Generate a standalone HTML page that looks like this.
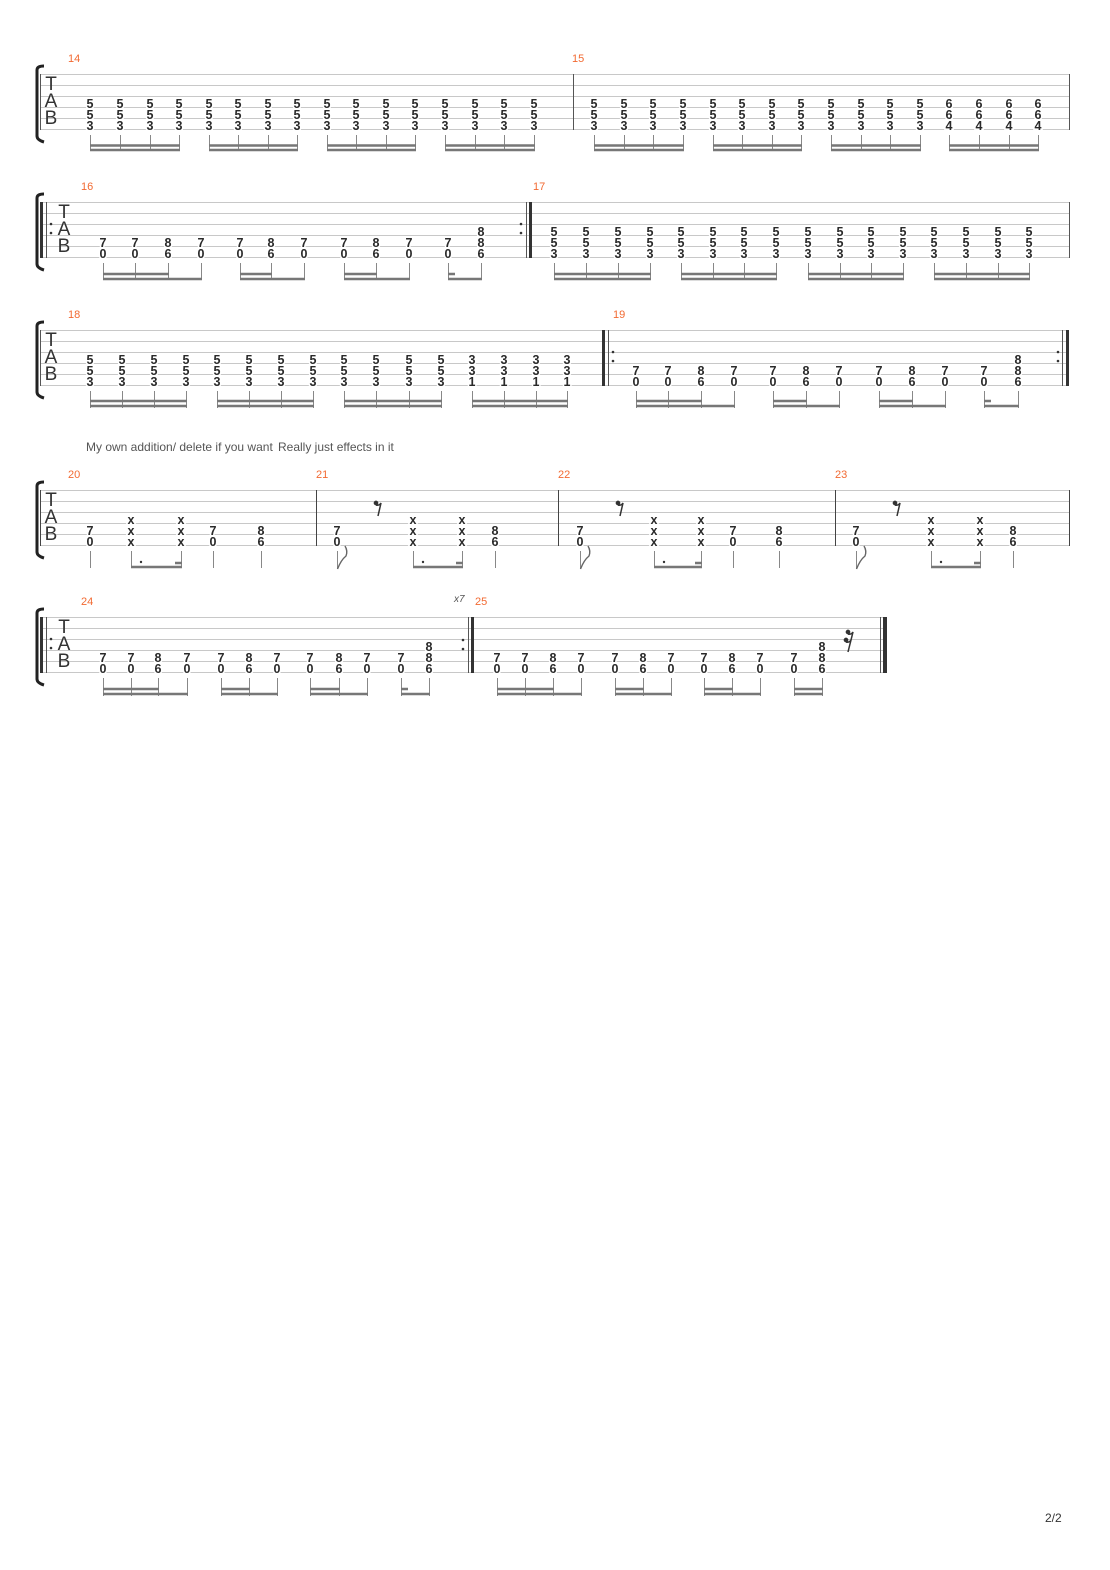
<!DOCTYPE html>
<html><head><meta charset="utf-8"><style>
html,body{margin:0;padding:0;background:#fff}
svg{display:block}
.l{stroke:#c8c8c8;stroke-width:1}
.n{font-family:"Liberation Sans",sans-serif;font-size:12.5px;font-weight:bold;fill:#2a2a2a;text-anchor:middle;paint-order:stroke;stroke:#fff;stroke-width:3px}
.mn{font-family:"Liberation Sans",sans-serif;font-size:11px;fill:#f26a32}
.tab{font-family:"Liberation Sans",sans-serif;font-size:19px;fill:#333;text-anchor:middle}
.st{stroke:#888;stroke-width:1;fill:none}
.bm{stroke:#777;stroke-width:2.6;fill:none}
.br{stroke:#222;stroke-width:3;fill:none}
.txt{font-family:"Liberation Sans",sans-serif;font-size:12px;fill:#555}
</style></head><body>
<svg width="1110" height="1570" viewBox="0 0 1110 1570" xmlns="http://www.w3.org/2000/svg">

<!-- ============ SYSTEM 1 ============ -->
<path class="br" d="M44 66 Q37 66 37 70 V136 Q37 140 44 142"/>
<g class="l"><path d="M40 74.5H1069M40 85.5H1069M40 96.5H1069M40 107.5H1069M40 118.5H1069M40 129.5H1069"/></g>
<path d="M40.5 74V130M573.5 74V130M1069.5 74V130" stroke="#555" stroke-width="1"/>
<text class="tab" x="51" y="90">T</text><text class="tab" x="51" y="107">A</text><text class="tab" x="51" y="124">B</text>
<text class="mn" x="68" y="62">14</text><text class="mn" x="572" y="62">15</text>
<g class="n">
<text x="90" y="108">5<tspan x="90" dy="11">5</tspan><tspan x="90" dy="11">3</tspan></text>
<text x="120" y="108">5<tspan x="120" dy="11">5</tspan><tspan x="120" dy="11">3</tspan></text>
<text x="150" y="108">5<tspan x="150" dy="11">5</tspan><tspan x="150" dy="11">3</tspan></text>
<text x="179" y="108">5<tspan x="179" dy="11">5</tspan><tspan x="179" dy="11">3</tspan></text>
<text x="209" y="108">5<tspan x="209" dy="11">5</tspan><tspan x="209" dy="11">3</tspan></text>
<text x="238" y="108">5<tspan x="238" dy="11">5</tspan><tspan x="238" dy="11">3</tspan></text>
<text x="268" y="108">5<tspan x="268" dy="11">5</tspan><tspan x="268" dy="11">3</tspan></text>
<text x="297" y="108">5<tspan x="297" dy="11">5</tspan><tspan x="297" dy="11">3</tspan></text>
<text x="327" y="108">5<tspan x="327" dy="11">5</tspan><tspan x="327" dy="11">3</tspan></text>
<text x="356" y="108">5<tspan x="356" dy="11">5</tspan><tspan x="356" dy="11">3</tspan></text>
<text x="386" y="108">5<tspan x="386" dy="11">5</tspan><tspan x="386" dy="11">3</tspan></text>
<text x="415" y="108">5<tspan x="415" dy="11">5</tspan><tspan x="415" dy="11">3</tspan></text>
<text x="445" y="108">5<tspan x="445" dy="11">5</tspan><tspan x="445" dy="11">3</tspan></text>
<text x="475" y="108">5<tspan x="475" dy="11">5</tspan><tspan x="475" dy="11">3</tspan></text>
<text x="504" y="108">5<tspan x="504" dy="11">5</tspan><tspan x="504" dy="11">3</tspan></text>
<text x="534" y="108">5<tspan x="534" dy="11">5</tspan><tspan x="534" dy="11">3</tspan></text>
<text x="594" y="108">5<tspan x="594" dy="11">5</tspan><tspan x="594" dy="11">3</tspan></text>
<text x="624" y="108">5<tspan x="624" dy="11">5</tspan><tspan x="624" dy="11">3</tspan></text>
<text x="653" y="108">5<tspan x="653" dy="11">5</tspan><tspan x="653" dy="11">3</tspan></text>
<text x="683" y="108">5<tspan x="683" dy="11">5</tspan><tspan x="683" dy="11">3</tspan></text>
<text x="713" y="108">5<tspan x="713" dy="11">5</tspan><tspan x="713" dy="11">3</tspan></text>
<text x="742" y="108">5<tspan x="742" dy="11">5</tspan><tspan x="742" dy="11">3</tspan></text>
<text x="772" y="108">5<tspan x="772" dy="11">5</tspan><tspan x="772" dy="11">3</tspan></text>
<text x="801" y="108">5<tspan x="801" dy="11">5</tspan><tspan x="801" dy="11">3</tspan></text>
<text x="831" y="108">5<tspan x="831" dy="11">5</tspan><tspan x="831" dy="11">3</tspan></text>
<text x="861" y="108">5<tspan x="861" dy="11">5</tspan><tspan x="861" dy="11">3</tspan></text>
<text x="890" y="108">5<tspan x="890" dy="11">5</tspan><tspan x="890" dy="11">3</tspan></text>
<text x="920" y="108">5<tspan x="920" dy="11">5</tspan><tspan x="920" dy="11">3</tspan></text>
<text x="949" y="108">6<tspan x="949" dy="11">6</tspan><tspan x="949" dy="11">4</tspan></text>
<text x="979" y="108">6<tspan x="979" dy="11">6</tspan><tspan x="979" dy="11">4</tspan></text>
<text x="1009" y="108">6<tspan x="1009" dy="11">6</tspan><tspan x="1009" dy="11">4</tspan></text>
<text x="1038" y="108">6<tspan x="1038" dy="11">6</tspan><tspan x="1038" dy="11">4</tspan></text>
</g>
<path class="st" d="M90.5 135V151M120.5 135V151M150.5 135V151M179.5 135V151M209.5 135V151M238.5 135V151M268.5 135V151M297.5 135V151M327.5 135V151M356.5 135V151M386.5 135V151M415.5 135V151M445.5 135V151M475.5 135V151M504.5 135V151M534.5 135V151M594.5 135V151M624.5 135V151M653.5 135V151M683.5 135V151M713.5 135V151M742.5 135V151M772.5 135V151M801.5 135V151M831.5 135V151M861.5 135V151M890.5 135V151M920.5 135V151M949.5 135V151M979.5 135V151M1009.5 135V151M1038.5 135V151"/>
<path class="bm" d="M90 145.5H180M90 150H180M209 145.5H298M209 150H298M327 145.5H416M327 150H416M445 145.5H535M445 150H535M594 145.5H684M594 150H684M713 145.5H802M713 150H802M831 145.5H921M831 150H921M949 145.5H1039M949 150H1039"/>

<!-- ============ SYSTEM 2 ============ -->
<path class="br" d="M44 194 Q37 194 37 198 V264 Q37 268 44 270"/>
<g class="l"><path d="M40 202.5H1069M40 213.5H1069M40 224.5H1069M40 235.5H1069M40 246.5H1069M40 257.5H1069"/></g>
<rect x="40" y="202" width="3" height="56" fill="#333"/>
<path d="M46.5 202V258M526.5 202V258M1069.5 202V258" stroke="#555" stroke-width="1"/>
<rect x="529" y="202" width="3" height="56" fill="#333"/>
<circle cx="51" cy="224" r="1.3" fill="#333"/><circle cx="51" cy="233" r="1.3" fill="#333"/>
<circle cx="521" cy="224" r="1.3" fill="#333"/><circle cx="521" cy="233" r="1.3" fill="#333"/>
<text class="tab" x="64" y="218">T</text><text class="tab" x="64" y="235">A</text><text class="tab" x="64" y="252">B</text>
<text class="mn" x="81" y="190">16</text><text class="mn" x="533" y="190">17</text>
<g class="n">
<text x="103" y="247">7<tspan x="103" dy="11">0</tspan></text>
<text x="135" y="247">7<tspan x="135" dy="11">0</tspan></text>
<text x="168" y="247">8<tspan x="168" dy="11">6</tspan></text>
<text x="201" y="247">7<tspan x="201" dy="11">0</tspan></text>
<text x="240" y="247">7<tspan x="240" dy="11">0</tspan></text>
<text x="271" y="247">8<tspan x="271" dy="11">6</tspan></text>
<text x="304" y="247">7<tspan x="304" dy="11">0</tspan></text>
<text x="344" y="247">7<tspan x="344" dy="11">0</tspan></text>
<text x="376" y="247">8<tspan x="376" dy="11">6</tspan></text>
<text x="409" y="247">7<tspan x="409" dy="11">0</tspan></text>
<text x="448" y="247">7<tspan x="448" dy="11">0</tspan></text>
<text x="481" y="236">8<tspan x="481" dy="11">8</tspan><tspan x="481" dy="11">6</tspan></text>
<text x="554" y="236">5<tspan x="554" dy="11">5</tspan><tspan x="554" dy="11">3</tspan></text>
<text x="586" y="236">5<tspan x="586" dy="11">5</tspan><tspan x="586" dy="11">3</tspan></text>
<text x="618" y="236">5<tspan x="618" dy="11">5</tspan><tspan x="618" dy="11">3</tspan></text>
<text x="650" y="236">5<tspan x="650" dy="11">5</tspan><tspan x="650" dy="11">3</tspan></text>
<text x="681" y="236">5<tspan x="681" dy="11">5</tspan><tspan x="681" dy="11">3</tspan></text>
<text x="713" y="236">5<tspan x="713" dy="11">5</tspan><tspan x="713" dy="11">3</tspan></text>
<text x="744" y="236">5<tspan x="744" dy="11">5</tspan><tspan x="744" dy="11">3</tspan></text>
<text x="776" y="236">5<tspan x="776" dy="11">5</tspan><tspan x="776" dy="11">3</tspan></text>
<text x="808" y="236">5<tspan x="808" dy="11">5</tspan><tspan x="808" dy="11">3</tspan></text>
<text x="840" y="236">5<tspan x="840" dy="11">5</tspan><tspan x="840" dy="11">3</tspan></text>
<text x="871" y="236">5<tspan x="871" dy="11">5</tspan><tspan x="871" dy="11">3</tspan></text>
<text x="903" y="236">5<tspan x="903" dy="11">5</tspan><tspan x="903" dy="11">3</tspan></text>
<text x="934" y="236">5<tspan x="934" dy="11">5</tspan><tspan x="934" dy="11">3</tspan></text>
<text x="966" y="236">5<tspan x="966" dy="11">5</tspan><tspan x="966" dy="11">3</tspan></text>
<text x="998" y="236">5<tspan x="998" dy="11">5</tspan><tspan x="998" dy="11">3</tspan></text>
<text x="1029" y="236">5<tspan x="1029" dy="11">5</tspan><tspan x="1029" dy="11">3</tspan></text>
</g>
<path class="st" d="M103.5 263V280M135.5 263V280M168.5 263V280M201.5 263V280M240.5 263V280M271.5 263V280M304.5 263V280M344.5 263V280M376.5 263V280M409.5 263V280M448.5 263V280M481.5 263V280M554.5 263V280M586.5 263V280M618.5 263V280M650.5 263V280M681.5 263V280M713.5 263V280M744.5 263V280M776.5 263V280M808.5 263V280M840.5 263V280M871.5 263V280M903.5 263V280M934.5 263V280M966.5 263V280M998.5 263V280M1029.5 263V280"/>
<path class="bm" d="M103 274H169M103 279H202M240 274H272M240 279H305M344 274H377M344 279H410M448 274H455M448 279H482M554 274H651M554 279H651M681 274H777M681 279H777M808 274H904M808 279H904M934 274H1030M934 279H1030"/>

<!-- ============ SYSTEM 3 ============ -->
<path class="br" d="M44 322 Q37 322 37 326 V392 Q37 396 44 398"/>
<g class="l"><path d="M40 330.5H1069M40 341.5H1069M40 352.5H1069M40 363.5H1069M40 374.5H1069M40 385.5H1069"/></g>
<path d="M40.5 330V386M608.5 330V386M1062.5 330V386" stroke="#555" stroke-width="1"/>
<rect x="602" y="330" width="3" height="56" fill="#333"/>
<rect x="1066" y="330" width="3" height="56" fill="#333"/>
<circle cx="613" cy="352" r="1.3" fill="#333"/><circle cx="613" cy="361" r="1.3" fill="#333"/>
<circle cx="1058" cy="352" r="1.3" fill="#333"/><circle cx="1058" cy="361" r="1.3" fill="#333"/>
<text class="tab" x="51" y="346">T</text><text class="tab" x="51" y="363">A</text><text class="tab" x="51" y="380">B</text>
<text class="mn" x="68" y="318">18</text><text class="mn" x="613" y="318">19</text>
<g class="n">
<text x="90" y="364">5<tspan x="90" dy="11">5</tspan><tspan x="90" dy="11">3</tspan></text>
<text x="122" y="364">5<tspan x="122" dy="11">5</tspan><tspan x="122" dy="11">3</tspan></text>
<text x="154" y="364">5<tspan x="154" dy="11">5</tspan><tspan x="154" dy="11">3</tspan></text>
<text x="186" y="364">5<tspan x="186" dy="11">5</tspan><tspan x="186" dy="11">3</tspan></text>
<text x="217" y="364">5<tspan x="217" dy="11">5</tspan><tspan x="217" dy="11">3</tspan></text>
<text x="249" y="364">5<tspan x="249" dy="11">5</tspan><tspan x="249" dy="11">3</tspan></text>
<text x="281" y="364">5<tspan x="281" dy="11">5</tspan><tspan x="281" dy="11">3</tspan></text>
<text x="313" y="364">5<tspan x="313" dy="11">5</tspan><tspan x="313" dy="11">3</tspan></text>
<text x="344" y="364">5<tspan x="344" dy="11">5</tspan><tspan x="344" dy="11">3</tspan></text>
<text x="376" y="364">5<tspan x="376" dy="11">5</tspan><tspan x="376" dy="11">3</tspan></text>
<text x="409" y="364">5<tspan x="409" dy="11">5</tspan><tspan x="409" dy="11">3</tspan></text>
<text x="441" y="364">5<tspan x="441" dy="11">5</tspan><tspan x="441" dy="11">3</tspan></text>
<text x="472" y="364">3<tspan x="472" dy="11">3</tspan><tspan x="472" dy="11">1</tspan></text>
<text x="504" y="364">3<tspan x="504" dy="11">3</tspan><tspan x="504" dy="11">1</tspan></text>
<text x="536" y="364">3<tspan x="536" dy="11">3</tspan><tspan x="536" dy="11">1</tspan></text>
<text x="567" y="364">3<tspan x="567" dy="11">3</tspan><tspan x="567" dy="11">1</tspan></text>
<text x="636" y="375">7<tspan x="636" dy="11">0</tspan></text>
<text x="668" y="375">7<tspan x="668" dy="11">0</tspan></text>
<text x="701" y="375">8<tspan x="701" dy="11">6</tspan></text>
<text x="734" y="375">7<tspan x="734" dy="11">0</tspan></text>
<text x="773" y="375">7<tspan x="773" dy="11">0</tspan></text>
<text x="806" y="375">8<tspan x="806" dy="11">6</tspan></text>
<text x="839" y="375">7<tspan x="839" dy="11">0</tspan></text>
<text x="879" y="375">7<tspan x="879" dy="11">0</tspan></text>
<text x="912" y="375">8<tspan x="912" dy="11">6</tspan></text>
<text x="945" y="375">7<tspan x="945" dy="11">0</tspan></text>
<text x="984" y="375">7<tspan x="984" dy="11">0</tspan></text>
<text x="1018" y="364">8<tspan x="1018" dy="11">8</tspan><tspan x="1018" dy="11">6</tspan></text>
</g>
<path class="st" d="M90.5 391V408M122.5 391V408M154.5 391V408M186.5 391V408M217.5 391V408M249.5 391V408M281.5 391V408M313.5 391V408M344.5 391V408M376.5 391V408M409.5 391V408M441.5 391V408M472.5 391V408M504.5 391V408M536.5 391V408M567.5 391V408M636.5 391V408M668.5 391V408M701.5 391V408M734.5 391V408M773.5 391V408M806.5 391V408M839.5 391V408M879.5 391V408M912.5 391V408M945.5 391V408M984.5 391V408M1018.5 391V408"/>
<path class="bm" d="M90 401H187M90 406H187M217 401H314M217 406H314M344 401H442M344 406H442M472 401H568M472 406H568M636 401H702M636 406H735M773 401H807M773 406H840M879 401H913M879 406H946M984 401H991M984 406H1019"/>

<!-- ============ SYSTEM 4 ============ -->
<text class="txt" x="86" y="451">My own addition/ delete if you want</text>
<text class="txt" x="278" y="451">Really just effects in it</text>
<path class="br" d="M44 482 Q37 482 37 486 V552 Q37 556 44 558"/>
<g class="l"><path d="M40 490.5H1069M40 501.5H1069M40 512.5H1069M40 523.5H1069M40 534.5H1069M40 545.5H1069"/></g>
<path d="M40.5 490V546M316.5 490V546M558.5 490V546M835.5 490V546M1069.5 490V546" stroke="#444" stroke-width="1"/>
<text class="tab" x="51" y="506">T</text><text class="tab" x="51" y="523">A</text><text class="tab" x="51" y="540">B</text>
<text class="mn" x="68" y="478">20</text><text class="mn" x="316" y="478">21</text><text class="mn" x="558" y="478">22</text><text class="mn" x="835" y="478">23</text>
<g class="n">
<text x="90" y="535">7<tspan x="90" dy="11">0</tspan></text>
<text x="131" y="524">x<tspan x="131" dy="11">x</tspan><tspan x="131" dy="11">x</tspan></text>
<text x="181" y="524">x<tspan x="181" dy="11">x</tspan><tspan x="181" dy="11">x</tspan></text>
<text x="213" y="535">7<tspan x="213" dy="11">0</tspan></text>
<text x="261" y="535">8<tspan x="261" dy="11">6</tspan></text>
<text x="337" y="535">7<tspan x="337" dy="11">0</tspan></text>
<text x="413" y="524">x<tspan x="413" dy="11">x</tspan><tspan x="413" dy="11">x</tspan></text>
<text x="462" y="524">x<tspan x="462" dy="11">x</tspan><tspan x="462" dy="11">x</tspan></text>
<text x="495" y="535">8<tspan x="495" dy="11">6</tspan></text>
<text x="580" y="535">7<tspan x="580" dy="11">0</tspan></text>
<text x="654" y="524">x<tspan x="654" dy="11">x</tspan><tspan x="654" dy="11">x</tspan></text>
<text x="701" y="524">x<tspan x="701" dy="11">x</tspan><tspan x="701" dy="11">x</tspan></text>
<text x="733" y="535">7<tspan x="733" dy="11">0</tspan></text>
<text x="779" y="535">8<tspan x="779" dy="11">6</tspan></text>
<text x="856" y="535">7<tspan x="856" dy="11">0</tspan></text>
<text x="931" y="524">x<tspan x="931" dy="11">x</tspan><tspan x="931" dy="11">x</tspan></text>
<text x="980" y="524">x<tspan x="980" dy="11">x</tspan><tspan x="980" dy="11">x</tspan></text>
<text x="1013" y="535">8<tspan x="1013" dy="11">6</tspan></text>
</g>
<path class="st" d="M90.5 551V568M131.5 551V568M181.5 551V568M213.5 551V568M261.5 551V568M337.5 551V569M413.5 551V568M462.5 551V568M495.5 551V568M580.5 551V569M654.5 551V568M701.5 551V568M733.5 551V568M779.5 551V568M856.5 551V569M931.5 551V568M980.5 551V568M1013.5 551V568"/>
<path class="bm" d="M131 567H182M175 563H182M413 567H463M456 563H463M654 567H702M695 563H702M931 567H981M974 563H981"/>
<g fill="#333"><circle cx="141" cy="562" r="1.2"/><circle cx="423" cy="562" r="1.2"/><circle cx="664" cy="562" r="1.2"/><circle cx="941" cy="562" r="1.2"/></g>
<g stroke="#666" stroke-width="1.4" fill="none">
<path d="M337.5 569 Q341 560 346 556 Q348 551 345 546"/>
<path d="M580.5 569 Q584 560 589 556 Q591 551 588 546"/>
<path d="M856.5 569 Q860 560 865 556 Q867 551 864 546"/>
</g>
<g stroke="#333" stroke-width="1.5" fill="#333">
<circle cx="376" cy="503" r="1.6"/><path d="M376 505 Q379 506 381 503 L378 516" fill="none"/>
<circle cx="618" cy="503" r="1.6"/><path d="M618 505 Q621 506 623 503 L620 516" fill="none"/>
<circle cx="895" cy="503" r="1.6"/><path d="M895 505 Q898 506 900 503 L897 516" fill="none"/>
</g>

<!-- ============ SYSTEM 5 ============ -->
<path class="br" d="M44 609 Q37 609 37 613 V679 Q37 683 44 685"/>
<g class="l"><path d="M40 617.5H887M40 628.5H887M40 639.5H887M40 650.5H887M40 661.5H887M40 672.5H887"/></g>
<rect x="40" y="617" width="3" height="56" fill="#333"/>
<path d="M46.5 617V673M468.5 617V673M880.5 617V673" stroke="#555" stroke-width="1"/>
<rect x="471" y="617" width="3" height="56" fill="#333"/>
<rect x="883" y="617" width="4" height="56" fill="#333"/>
<circle cx="51" cy="639" r="1.3" fill="#333"/><circle cx="51" cy="648" r="1.3" fill="#333"/>
<circle cx="463" cy="640" r="1.3" fill="#333"/><circle cx="463" cy="649" r="1.3" fill="#333"/>
<text class="tab" x="64" y="633">T</text><text class="tab" x="64" y="650">A</text><text class="tab" x="64" y="667">B</text>
<text class="mn" x="81" y="605">24</text><text class="mn" x="475" y="605">25</text>
<text x="454" y="602" style="font-family:'Liberation Sans',sans-serif;font-size:10px;font-style:italic;fill:#555">x7</text>
<g class="n">
<text x="103" y="662">7<tspan x="103" dy="11">0</tspan></text>
<text x="131" y="662">7<tspan x="131" dy="11">0</tspan></text>
<text x="158" y="662">8<tspan x="158" dy="11">6</tspan></text>
<text x="187" y="662">7<tspan x="187" dy="11">0</tspan></text>
<text x="221" y="662">7<tspan x="221" dy="11">0</tspan></text>
<text x="249" y="662">8<tspan x="249" dy="11">6</tspan></text>
<text x="277" y="662">7<tspan x="277" dy="11">0</tspan></text>
<text x="310" y="662">7<tspan x="310" dy="11">0</tspan></text>
<text x="339" y="662">8<tspan x="339" dy="11">6</tspan></text>
<text x="367" y="662">7<tspan x="367" dy="11">0</tspan></text>
<text x="401" y="662">7<tspan x="401" dy="11">0</tspan></text>
<text x="429" y="651">8<tspan x="429" dy="11">8</tspan><tspan x="429" dy="11">6</tspan></text>
<text x="497" y="662">7<tspan x="497" dy="11">0</tspan></text>
<text x="525" y="662">7<tspan x="525" dy="11">0</tspan></text>
<text x="553" y="662">8<tspan x="553" dy="11">6</tspan></text>
<text x="581" y="662">7<tspan x="581" dy="11">0</tspan></text>
<text x="615" y="662">7<tspan x="615" dy="11">0</tspan></text>
<text x="643" y="662">8<tspan x="643" dy="11">6</tspan></text>
<text x="671" y="662">7<tspan x="671" dy="11">0</tspan></text>
<text x="704" y="662">7<tspan x="704" dy="11">0</tspan></text>
<text x="732" y="662">8<tspan x="732" dy="11">6</tspan></text>
<text x="760" y="662">7<tspan x="760" dy="11">0</tspan></text>
<text x="794" y="662">7<tspan x="794" dy="11">0</tspan></text>
<text x="822" y="651">8<tspan x="822" dy="11">8</tspan><tspan x="822" dy="11">6</tspan></text>
</g>
<path class="st" d="M103.5 678V696M131.5 678V696M158.5 678V696M187.5 678V696M221.5 678V696M249.5 678V696M277.5 678V696M310.5 678V696M339.5 678V696M367.5 678V696M401.5 678V696M429.5 678V696M497.5 678V696M525.5 678V696M553.5 678V696M581.5 678V696M615.5 678V696M643.5 678V696M671.5 678V696M704.5 678V696M732.5 678V696M760.5 678V696M794.5 678V696M822.5 678V696"/>
<path class="bm" d="M103 689H159M103 694H188M221 689H250M221 694H278M310 689H340M310 694H368M401 689H408M401 694H430M497 689H554M497 694H582M615 689H644M615 694H672M704 689H733M704 694H761M794 689H823M794 694H823"/>
<g stroke="#333" stroke-width="1.5" fill="#333">
<circle cx="848" cy="632" r="1.6"/><path d="M848 634 Q851 635 853 632 L848 652" fill="none"/>
<circle cx="846" cy="640" r="1.6"/><path d="M846 642 Q849 643 851 640" fill="none"/>
</g>

<text x="1045" y="1522" style="font-family:'Liberation Sans',sans-serif;font-size:12px;fill:#333">2/2</text>
</svg>
</body></html>
